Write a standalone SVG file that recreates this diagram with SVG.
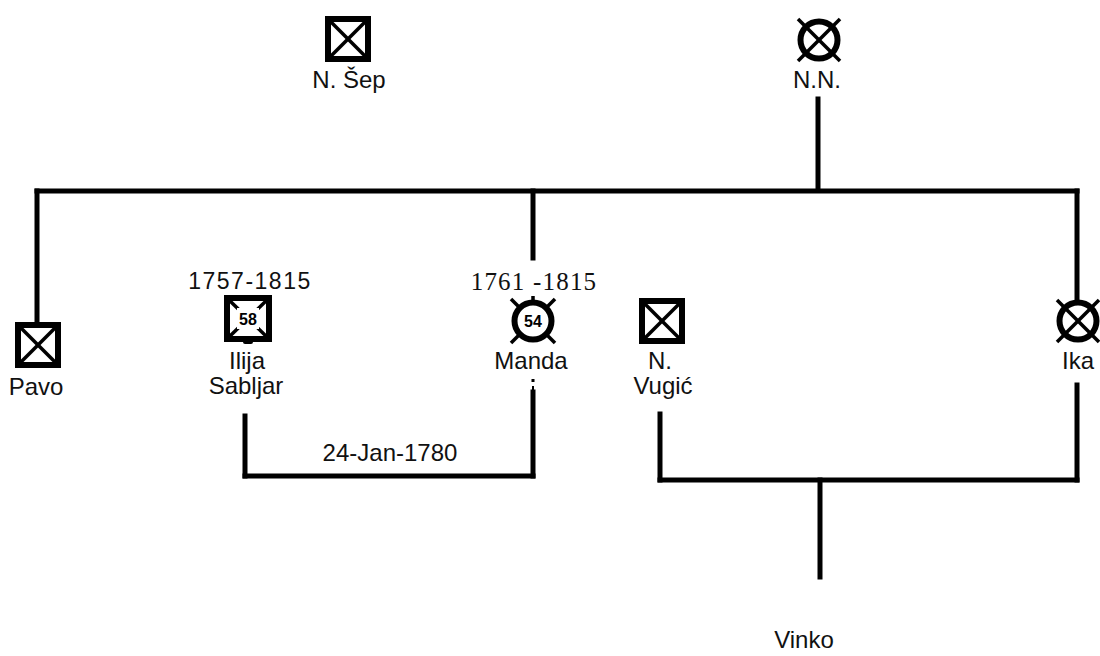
<svg xmlns="http://www.w3.org/2000/svg" width="1100" height="656" viewBox="0 0 1100 656">
<style>
.lbl{font-family:"Liberation Sans",Arial,sans-serif;font-size:24px;fill:#111;text-anchor:middle}
.date{font-family:"Liberation Sans",Arial,sans-serif;font-size:23px;fill:#111;text-anchor:middle;letter-spacing:1.5px}
.dates{font-family:"Liberation Serif","Times New Roman",serif;font-size:25px;fill:#111;text-anchor:middle;letter-spacing:1.2px}
.num{font-family:"Liberation Sans",Arial,sans-serif;font-size:16px;font-weight:bold;fill:#000;text-anchor:middle}
.ln{stroke:#000;stroke-width:5;fill:none;stroke-linecap:square}
.box{fill:#fff;stroke:#000;stroke-width:6}
.x{stroke:#000;stroke-width:3.5}
</style>
<defs>
<g id="male">
<rect class="box" x="-20" y="-20" width="40" height="40"/>
<line class="x" x1="-18" y1="-18" x2="18" y2="18"/>
<line class="x" x1="18" y1="-18" x2="-18" y2="18"/>
</g>
<g id="female">
<line class="x" x1="-21" y1="-21" x2="21" y2="21"/>
<line class="x" x1="21" y1="-21" x2="-21" y2="21"/>
<circle cx="0" cy="0" r="18.5" fill="none" stroke="#000" stroke-width="6"/>
</g>
</defs>

<g id="connectors">
<line class="ln" x1="818" y1="99" x2="818" y2="190"/>
<line class="ln" x1="37" y1="191" x2="1077" y2="191"/>
<line class="ln" x1="37" y1="191" x2="37" y2="322"/>
<line class="ln" x1="533" y1="191" x2="533" y2="258"/>
<line class="ln" x1="1077" y1="191" x2="1077" y2="298"/>
<line class="ln" x1="245" y1="416" x2="245" y2="476"/>
<line class="ln" x1="245" y1="476" x2="533" y2="476"/>
<line class="ln" x1="533" y1="392" x2="533" y2="476"/>
<line class="ln" x1="660" y1="414" x2="660" y2="480"/>
<line class="ln" x1="660" y1="480" x2="1077" y2="480"/>
<line class="ln" x1="1077" y1="385" x2="1077" y2="480"/>
<line class="ln" x1="820" y1="480" x2="820" y2="577"/>
</g>

<g id="n-sep">
<use href="#male" x="348" y="39"/>
<text class="lbl" x="349" y="88">N. Šep</text>
</g>
<g id="n-n">
<use href="#female" x="819" y="40"/>
<text class="lbl" x="817" y="88">N.N.</text>
</g>
<g id="pavo">
<use href="#male" x="38" y="345"/>
<text class="lbl" x="36" y="395">Pavo</text>
</g>
<g id="ilija">
<text class="date" x="250" y="289">1757-1815</text>
<rect class="box" x="227" y="298" width="42" height="41"/>
<rect x="243" y="339" width="10" height="5" rx="2" fill="#000"/>
<line class="x" x1="229" y1="300" x2="267" y2="337"/>
<line class="x" x1="267" y1="300" x2="229" y2="337"/>
<rect x="237" y="308" width="22" height="21" fill="#fff"/>
<text class="num" x="248" y="324.5">58</text>
<text class="lbl" x="247" y="369">Ilija</text>
<text class="lbl" x="246" y="394">Sabljar</text>
</g>
<g id="manda">
<text class="dates" x="534" y="290">1761 -1815</text>
<line class="x" x1="511" y1="299" x2="555" y2="343"/>
<line class="x" x1="555" y1="299" x2="511" y2="343"/>
<line class="x" x1="533" y1="296" x2="533" y2="302"/>
<circle cx="533" cy="321" r="18.5" fill="#fff" stroke="#000" stroke-width="6"/>
<text class="num" x="533" y="327" font-weight="normal">54</text>
<text class="lbl" x="531" y="369">Manda</text>
<rect x="531.5" y="379" width="3" height="3" fill="#000"/>
<line x1="533" y1="386" x2="533" y2="392" stroke="#000" stroke-width="2"/>
</g>
<g id="n-vugic">
<use href="#male" x="662" y="321"/>
<text class="lbl" x="660" y="369">N.</text>
<text class="lbl" x="663" y="394">Vugić</text>
</g>
<g id="ika">
<use href="#female" x="1078" y="321"/>
<text class="lbl" x="1078" y="369">Ika</text>
</g>
<g id="vinko">
<text class="lbl" x="804" y="648">Vinko</text>
</g>
<text class="lbl" x="390" y="461">24-Jan-1780</text>
</svg>
